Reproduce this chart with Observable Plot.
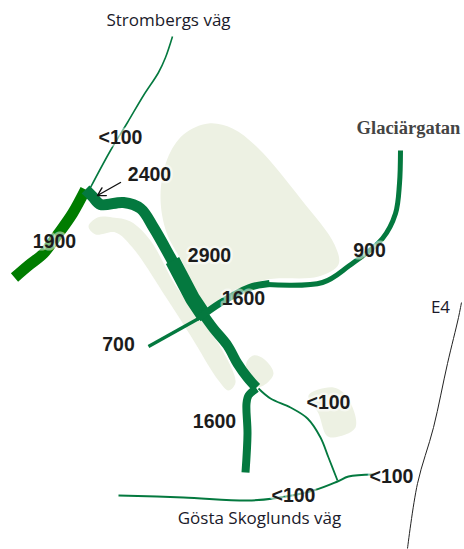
<!DOCTYPE html>
<html><head><meta charset="utf-8">
<script src="https://cdn.jsdelivr.net/npm/d3@7"></script>
<script src="https://cdn.jsdelivr.net/npm/@observablehq/plot@0.6"></script>
<style>html,body{margin:0;padding:0;background:#fff}svg{display:block}</style>
</head><body><div id="chart"></div>
<script>
const bigArea = [[208,123],[183,134],[167,158],[160,195],[166,232],[182,262],[203,305],[225,300],[262,280],[318,276],[338,264],[334,244],[300,198],[258,148],[232,128]];
const stripArea = [[88,226],[97,217],[112,217],[130,221],[150,240],[175,285],[205,325],[222,350],[235,382],[228,390],[218,380],[190,335],[165,296],[132,247],[115,232],[95,234]];
const smallArea1 = [[246,362],[253,355],[264,359],[273,373],[263,385],[254,386],[247,375]];
const smallArea2 = [[308,395],[333,387],[347,397],[355,427],[333,437],[326,435],[318,413]];

const strombergs = [[172,36],[165,57],[158,72],[143,95],[127,122],[110,150],[90,187]];
const road1900 = [[85,189],[72,213],[58,233],[43,253],[28,265],[14,277]];
const road2400 = [[85,189],[92,196],[100,204],[123,202],[140,208],[153,227],[170,257],[176,268]];
const road2900 = [[172,260],[192,298],[204,316]];
const road2900s = [[200,310],[213,328],[227,345],[237,363],[247,377],[256,387]];
const road1600s = [[256,388],[248,395],[246,403],[247,433],[245,472]];
const road700 = [[148,346],[200,317]];
const road1600e = [[198,318],[219,303],[249,287],[269,283]];
const road900 = [[267,284],[322,282],[349,265],[382,238],[395,213],[399,183],[400,150]];
const branch = [[258,388],[270,398],[290,407],[307,418],[320,437],[328,457],[337,480]];
const gosta = [[118,495],[183,497],[247,500],[273,498],[313,490],[337,481],[348,476],[373,474]];
const e4 = [[461,302],[458,317],[447,363],[433,427],[417,483],[407,548]];

const numberLabels = ["<100","2400","1900","2900","1600","900","700","<100","1600","<100","<100"];
const numberX = [120,149,54,209,243,369,118,328,214,391,293];
const numberY = [137,174,241,255,298,250,344,402,421,476,495];
const plainLabels = ["Strombergs väg","E4","Gösta Skoglunds väg"];
const plainX = [168,440,259];
const plainY = [20,307,518];

const green = "#04793f", pure = "#007c00", area = "#edf1e3";
const blob = pts => Plot.line(pts, {x:d=>d[0], y:d=>d[1], fill:area, stroke:null, curve:"catmull-rom-closed"});
const road = (pts, w, c=green, curve="catmull-rom") => Plot.line(pts, {x:d=>d[0], y:d=>d[1], stroke:c, strokeWidth:w, curve, strokeLinecap:"butt", strokeLinejoin:"round"});
const rows = (l,x,y) => l.map((t,i)=>({t,x:x[i],y:y[i]}));

const chart = Plot.plot({
  width:464, height:549, margin:0,
  x:{domain:[0,464], range:[0,464], axis:null},
  y:{domain:[0,549], range:[0,549], axis:null},
  style:{background:"#fff"},
  marks:[
    blob(bigArea), blob(stripArea), blob(smallArea1), blob(smallArea2),
    road(strombergs,1.6), road(road1900,11,pure), road(road2400,11), road(road2900,15,green,"linear"), road(road2900s,10),
    road(road1600s,8), road(road700,3.4,green,"linear"), road(road1600e,7), road(road900,5),
    road(branch,1.8), road(gosta,2), road(e4,1,"#222"),
    Plot.arrow([[120,182,97,195]], {x1:d=>d[0], y1:d=>d[1], x2:d=>d[2], y2:d=>d[3], stroke:"#111", strokeWidth:1.4, headLength:12, bend:false}),
    Plot.text(rows(numberLabels,numberX,numberY), {x:"x", y:"y", text:"t", fontFamily:"Liberation Sans", fontWeight:"bold", fontSize:19.5, fill:"#1c1c1c", stroke:"#fff", strokeOpacity:0.5, strokeWidth:5, paintOrder:"stroke"}),
    Plot.text(rows(plainLabels,plainX,plainY), {x:"x", y:"y", text:"t", fontFamily:"Open Sans", fontSize:17, fill:"#1a1a2a"}),
    Plot.text(["Glaciärgatan"], {x:()=>408, y:()=>128, fontFamily:"Liberation Serif", fontWeight:"bold", fontSize:18.5, fill:"#444"})
  ]
});
document.getElementById("chart").append(chart);
</script></body></html>
